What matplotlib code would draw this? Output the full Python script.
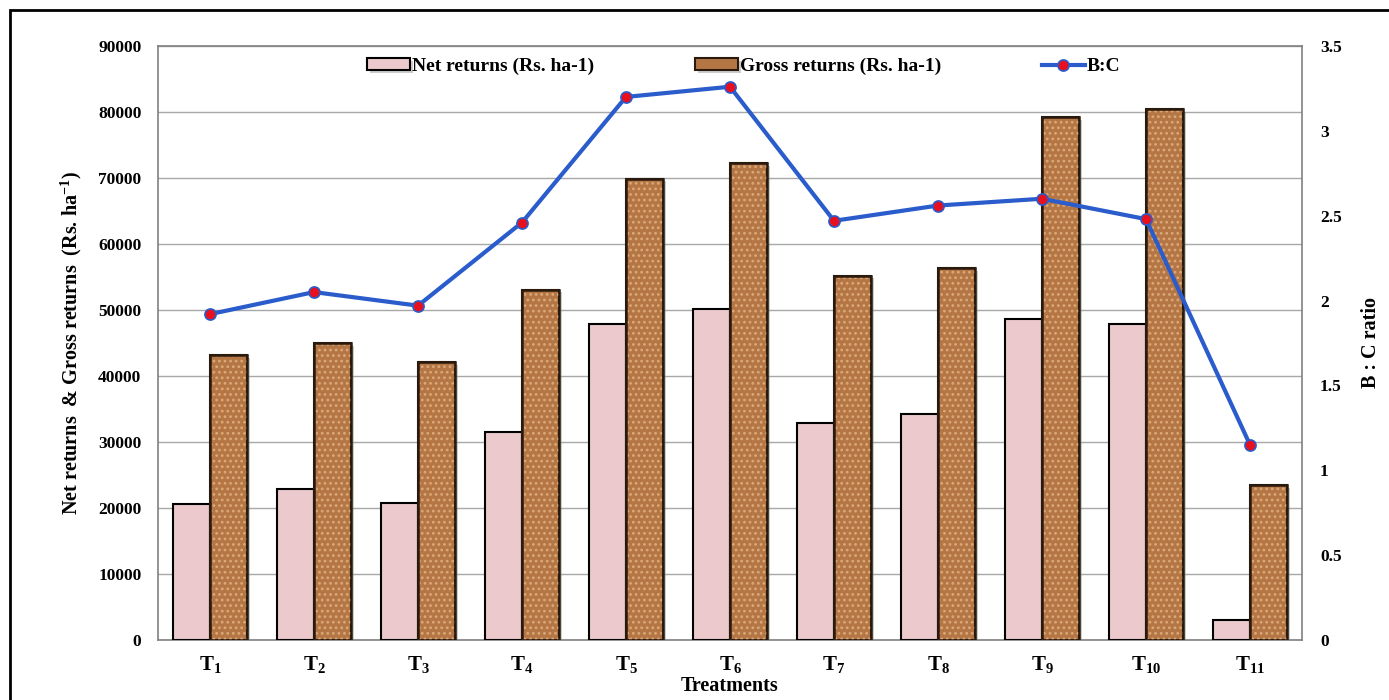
import matplotlib
matplotlib.use('Agg')
import matplotlib.pyplot as plt
import matplotlib.patheffects as pe
from matplotlib.patches import Rectangle
import numpy as np

# 数据
treatments = ['T1', 'T2', 'T3', 'T4', 'T5', 'T6', 'T7', 'T8', 'T9', 'T10', 'T11']
net_returns = [20600, 22900, 20700, 31500, 47900, 50100, 32900, 34300, 48600, 47900, 3000]
gross_returns = [43200, 45000, 42100, 53100, 69900, 72200, 55200, 56300, 79200, 80400, 23500]
bc_ratio = [1.92, 2.05, 1.97, 2.46, 3.20, 3.26, 2.47, 2.56, 2.60, 2.48, 1.15]
tick_labels = [r'$\mathbf{T_{%s}}$' % t[1:] for t in treatments]

plt.rcParams['font.family'] = ['Liberation Serif', 'DejaVu Serif']
plt.rcParams['font.weight'] = 'bold'
plt.rcParams['mathtext.fontset'] = 'custom'
plt.rcParams['mathtext.rm'] = 'Liberation Serif:bold'
plt.rcParams['mathtext.bf'] = 'Liberation Serif:bold'
plt.rcParams['mathtext.it'] = 'Liberation Serif:bold'
plt.rcParams['hatch.linewidth'] = 1.2

fig = plt.figure(figsize=(13.89, 7.0), dpi=100)
ax = fig.add_axes([158 / 1389, 60 / 700, 1144 / 1389, 594 / 700])

# 外框
fig.patches.append(Rectangle((10 / 1389, -0.05), 1.2, 690 / 700 + 0.05,
                             transform=fig.transFigure, fill=False,
                             edgecolor='black', linewidth=2))

x = np.arange(len(treatments))
w = 0.36
shadow = [pe.withSimplePatchShadow(offset=(2, -2), shadow_rgbFace='gray', alpha=0.4)]
b1 = ax.bar(x - w / 2, net_returns, w, color='#ecc9cc', edgecolor='black',
            linewidth=1.5, label='Net returns (Rs. ha-1)', zorder=3, path_effects=shadow)
b2 = ax.bar(x + w / 2, gross_returns, w, color='#b57645', edgecolor='#2a1a0e',
            linewidth=1.5, label='Gross returns (Rs. ha-1)', zorder=3, path_effects=shadow)
# 纹理（颗粒感）
ax.bar(x + w / 2, gross_returns, w, color='none', edgecolor='#dca878',
       hatch='...', linewidth=0, zorder=3.5)
ax.bar(x + w / 2, gross_returns, w, color='none', edgecolor='#2a1a0e',
       linewidth=1.8, zorder=3.6)

ax.set_xlim(-0.5, len(treatments) - 0.5)
ax.set_ylim(0, 90000)
ax.set_yticks(range(0, 90001, 10000))
ax.set_xticks(x)
ax.set_xticklabels(tick_labels, fontsize=15)
ax.tick_params(axis='y', length=0, labelsize=12.5, pad=12)
ax.tick_params(axis='x', length=0, pad=10)
ax.grid(axis='y', color='#a8a8a8', linewidth=1, zorder=0)
for s in ax.spines.values():
    s.set_color('#808080')
    s.set_linewidth(1.2)

ax.set_ylabel('Net returns  & Gross returns  (Rs. ha$^{-1}$)', fontsize=14.5,
              fontweight='bold', labelpad=10)
ax.set_xlabel('Treatments', fontsize=14.5, fontweight='bold', labelpad=1)

# 右轴 B:C
ax2 = ax.twinx()
ax2.set_ylim(0, 3.5)
ax2.set_yticks([0, 0.5, 1, 1.5, 2, 2.5, 3, 3.5])
ax2.set_yticklabels(['0', '0.5', '1', '1.5', '2', '2.5', '3', '3.5'])
ax2.tick_params(axis='y', length=0, labelsize=12.5, pad=13)
for s in ax2.spines.values():
    s.set_visible(False)
l1, = ax2.plot(x, bc_ratio, color='#2a5ccc', linewidth=3, marker='o',
               markersize=8, markerfacecolor='#e8101e', markeredgecolor='#2a5ccc',
               markeredgewidth=1.2, label='B:C', zorder=5)
ax2.set_ylabel('B : C ratio', fontsize=14.5, fontweight='bold', labelpad=14)

# 图例
ax.legend([b1, b2, l1], ['Net returns (Rs. ha-1)', 'Gross returns (Rs. ha-1)', 'B:C'],
          loc='upper center', bbox_to_anchor=(0.512, 1.0), ncol=3, frameon=False,
          fontsize=14, columnspacing=5.2, handlelength=2.2, handleheight=0.55,
          handletextpad=0.1, borderaxespad=0.2)

fig.savefig('out.png', dpi=100, facecolor='white')
